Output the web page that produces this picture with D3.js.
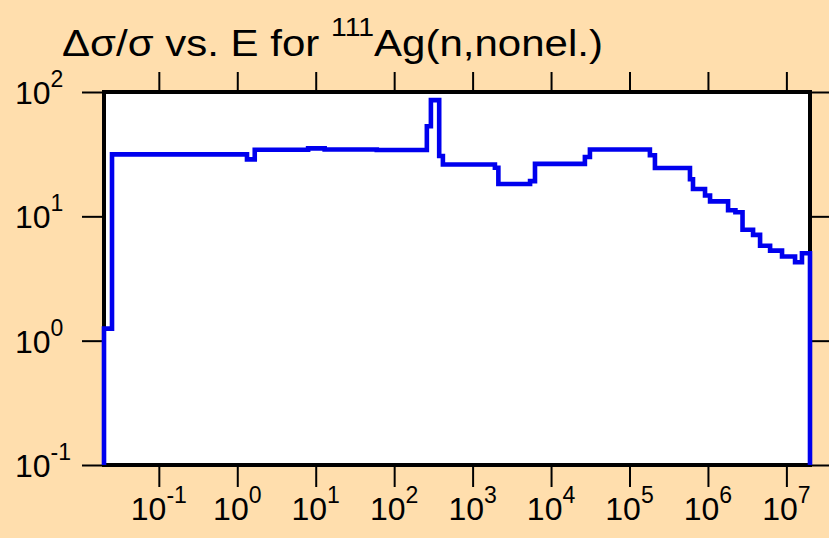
<!DOCTYPE html>
<html>
<head>
<meta charset="utf-8">
<script src="https://cdn.jsdelivr.net/npm/d3@7"></script>
<style>
html,body{margin:0;padding:0;background:#FFDEAD;}
svg{display:block;}
text{font-family:"Liberation Sans",Arial,sans-serif;fill:#000;}
</style>
</head>
<body>
<svg id="chart" width="829" height="538"></svg>
<script>
// Bin edges (eV) and relative uncertainty (%) per bin
const energyEdges = [0.02, 0.0253, 1.33, 1.67, 8, 13, 60, 261, 294, 375, 418, 1925, 2130, 5400, 6240,
  27000, 31300, 182000, 211000, 590000, 645000, 918000, 1064000, 1806000, 2240000, 2760000,
  3760000, 4620000, 6200000, 8800000, 12900000, 15800000, 20000000];
const uncertainty = [1.25, 31.5, 28.7, 34.3, 35.2, 34.5, 34.2, 53, 86, 30.6, 26.1, 24.6, 18.2, 19.2, 26.4,
  30, 34.5, 31, 24.5, 19.9, 16.6, 14.7, 13.2, 11.2, 10.8, 7.8, 7.1, 5.8, 5.3, 4.75, 4.27, 5.05];
const xTickValues = [-1, 0, 1, 2, 3, 4, 5, 6, 7];
const yTickValues = [-1, 0, 1, 2];
const xDomain = [0.02, 2e7];
const yDomain = [0.1, 100];

const svg = d3.select("#chart");
const L = 104, R = 810, T = 92, B = 465;
const x = d3.scaleLog().domain(xDomain).range([L, R]);
const y = d3.scaleLog().domain(yDomain).range([B, T]);

// title
const titleG = svg.append("g");
const title = titleG.append("text").attr("x", 0).attr("y", 0).style("font-size", "37px");
title.append("tspan").text("\u0394\u03c3/\u03c3 vs. E for ");
title.append("tspan").attr("dy", -20).style("font-size", "25px").text("111");
title.append("tspan").attr("dy", 20).text("Ag(n,nonel.)");
const tw = title.node().getComputedTextLength();
titleG.attr("transform", `translate(62,56) scale(${541 / tw},1)`);

// plot background
svg.append("rect").attr("x", L).attr("y", T).attr("width", R - L).attr("height", B - T)
  .attr("fill", "#fff");

// ticks
function styleAxis(g){
  g.select(".domain").remove();
  g.selectAll(".tick line").attr("stroke", "#000").attr("stroke-width", 2);
  g.selectAll(".tick text").remove();
}
const xt = xTickValues.map(e => Math.pow(10, e));
const yt = yTickValues.map(e => Math.pow(10, e));
svg.append("g").attr("transform", `translate(0,${B + 2})`)
  .call(d3.axisBottom(x).tickValues(xt).tickSize(20).tickFormat("")).call(styleAxis);
svg.append("g").attr("transform", `translate(0,${T - 2})`)
  .call(d3.axisTop(x).tickValues(xt).tickSize(18).tickFormat("")).call(styleAxis);
svg.append("g").attr("transform", `translate(${L - 2},0)`)
  .call(d3.axisLeft(y).tickValues(yt).tickSize(20).tickFormat("")).call(styleAxis);
svg.append("g").attr("transform", `translate(${R + 2},0)`)
  .call(d3.axisRight(y).tickValues(yt).tickSize(20).tickFormat("")).call(styleAxis);

// frame
svg.append("rect").attr("x", L).attr("y", T).attr("width", R - L).attr("height", B - T)
  .attr("fill", "none").attr("stroke", "#000").attr("stroke-width", 4);

// x labels
xTickValues.forEach(e => {
  const t = svg.append("text").attr("x", x(Math.pow(10, e))).attr("y", 520)
    .attr("text-anchor", "middle").style("font-size", "32px");
  t.append("tspan").text("10");
  t.append("tspan").attr("dy", -17).style("font-size", "23px").text(String(e));
});
// y labels
yTickValues.forEach(e => {
  const t = svg.append("text").attr("x", 15).attr("y", y(Math.pow(10, e)) + 12)
    .style("font-size", "32px");
  t.append("tspan").text("10");
  t.append("tspan").attr("dy", -17).style("font-size", "23px").text(String(e));
});

// step line
const pts = [[energyEdges[0], yDomain[0]]];
uncertainty.forEach((v, i) => pts.push([energyEdges[i], v]));
pts.push([energyEdges[energyEdges.length - 1], uncertainty[uncertainty.length - 1]]);
pts.push([energyEdges[energyEdges.length - 1], yDomain[0]]);
const line = d3.line().x(d => x(d[0])).y(d => y(d[1])).curve(d3.curveStepAfter);
svg.append("path").datum(pts).attr("d", line).attr("fill", "none")
  .attr("stroke", "#0000ee").attr("stroke-width", 4.6).attr("stroke-linejoin", "miter");
</script>
</body>
</html>
